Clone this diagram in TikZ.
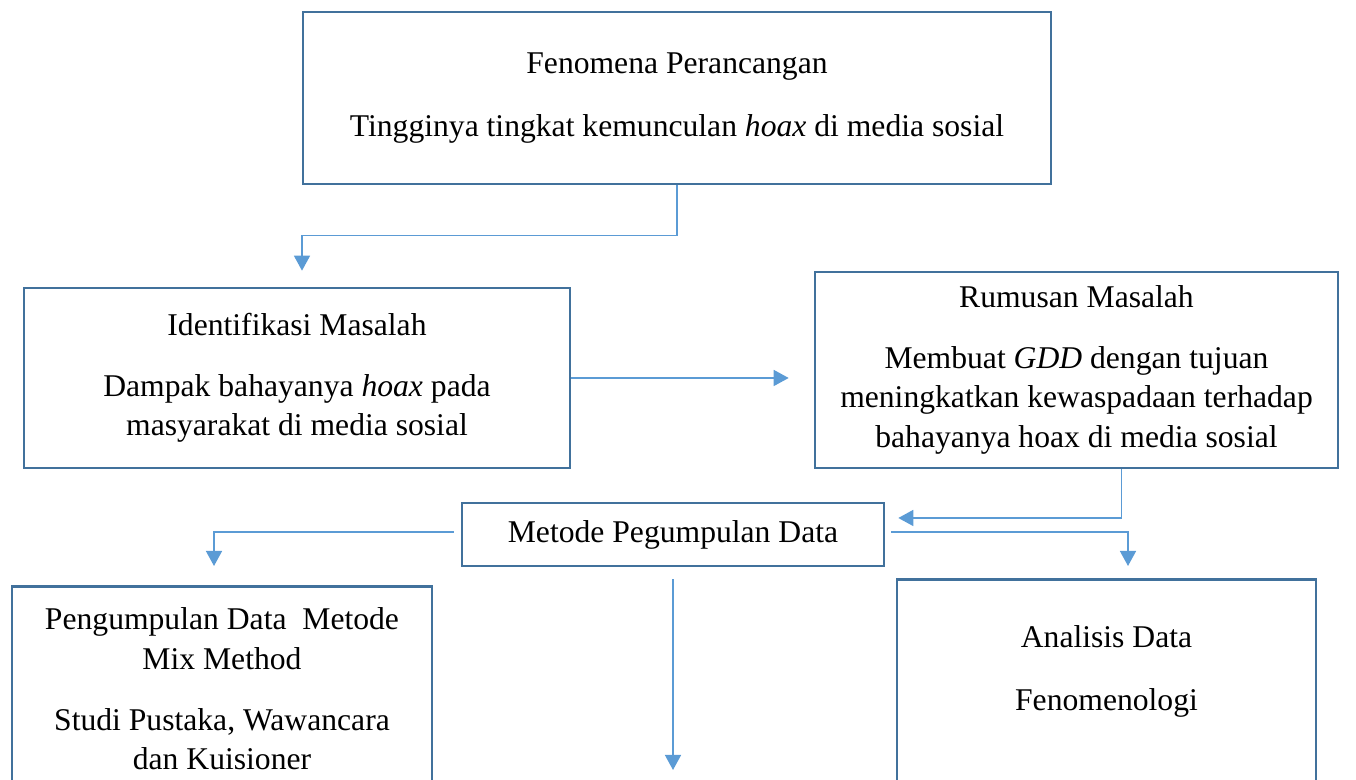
\documentclass[tikz,border=0pt]{standalone}
\usepackage{fontspec}
\setmainfont{Liberation Serif}
\usetikzlibrary{arrows.meta, positioning, calc}
\definecolor{boxblue}{RGB}{65,113,156}
\definecolor{lineblue}{RGB}{91,155,213}

\begin{document}
\begin{tikzpicture}[
  box/.style={
    draw=boxblue, line width=1.5pt, fill=white,
    inner sep=0pt, align=center,
    font=\fontsize{18}{22.6}\selectfont
  },
  txt/.style={align=center, inner sep=0pt, font=\fontsize{18}{22.6}\selectfont},
  conn/.style={-{Triangle[width=3.2mm, length=3mm]}, line width=0.85pt, color=lineblue},
]
\useasboundingbox (0,0) rectangle (27.12,15.6);
\clip (0,0) rectangle (27.12,15.6);

% boxes
\node[box, minimum width=14.96cm, minimum height=3.44cm] (fenomena) at (13.54,13.64)
  {Fenomena Perancangan\\[0.45cm]Tingginya tingkat kemunculan \textit{hoax} di media sosial};
\node[box, minimum width=10.92cm, minimum height=3.6cm] (identifikasi) at (5.94,8.04)
  {Identifikasi Masalah\\[0.42cm]Dampak bahayanya \textit{hoax} pada\\masyarakat di media sosial};
\node[box, minimum width=10.46cm, minimum height=3.92cm] (rumusan) at (21.53,8.2)
  {Rumusan Masalah\\[0.42cm]Membuat \textit{GDD} dengan tujuan\\meningkatkan kewaspadaan terhadap\\bahayanya hoax di media sosial};
\node[box, minimum width=8.44cm, minimum height=1.26cm] (metode) at (13.46,4.91)
  {Metode Pegumpulan Data};
\node[box, minimum width=8.4cm, minimum height=5cm, anchor=north] (pengumpulan) at (4.44,3.9) {};
\node[box, minimum width=8.38cm, minimum height=5cm, anchor=north] (analisis) at (22.13,4.04) {};

% texts of the lower boxes
\node[txt] (pengumpulan-teks) at ($(pengumpulan.north)+(0,-2.08)$)
  {Pengumpulan Data~ Metode\\Mix Method\\[0.42cm]Studi Pustaka, Wawancara\\dan Kuisioner};
\node[txt] (analisis-teks) at ($(analisis.north)+(0,-1.87)$)
  {Analisis Data\\[0.45cm]Fenomenologi};

\coordinate (ujung) at (13.44,0.2);

% connectors
\draw[conn] (fenomena.south) -- ++(0,-1.0) -| ([xshift=1mm,yshift=3.2mm]identifikasi.north);
\draw[conn] (identifikasi.east) -- ([xshift=-5mm]rumusan.west |- identifikasi.east);
\draw[conn] ([xshift=9mm]rumusan.south) |- ([xshift=2.6mm,yshift=3.3mm]metode.east);
\draw[conn] ([xshift=1.2mm,yshift=0.5mm]metode.east) -| ([xshift=4.3mm,yshift=2.4mm]analisis.north);
\draw[conn] ([xshift=-1.4mm,yshift=0.5mm]metode.west) -| ([xshift=-1.6mm,yshift=3.8mm]pengumpulan.north);
\draw[conn] ([yshift=-2.4mm]metode.south) -- (metode.south |- ujung);

\end{tikzpicture}
\end{document}
